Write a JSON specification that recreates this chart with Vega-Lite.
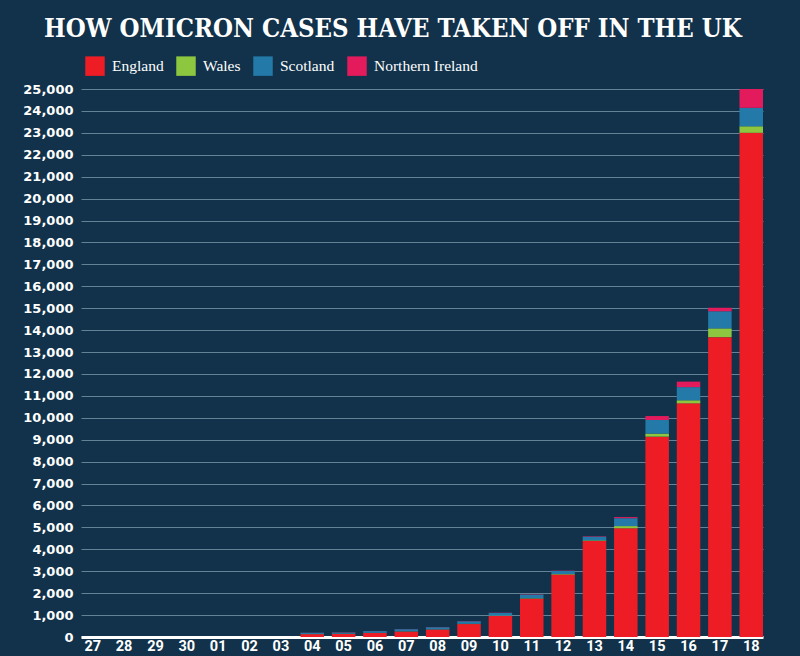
{
  "$schema": "https://vega.github.io/schema/vega-lite/v6.json",
  "width": 682,
  "height": 548,
  "autosize": {"type": "pad"},
  "padding": {"left": 22, "top": 16, "right": 38, "bottom": 3},
  "background": "#11324a",
  "title": {
    "text": "HOW OMICRON CASES HAVE TAKEN OFF IN THE UK",
    "font": "DejaVu Serif Condensed",
    "fontWeight": "bold",
    "fontSize": 25.5,
    "color": "#ffffff",
    "anchor": "middle",
    "frame": "bounds",
    "offset": 14
  },
  "data": {
    "values": [
      {"day": "27", "nation": "England", "ord": 1, "cases": 0},
      {"day": "28", "nation": "England", "ord": 1, "cases": 0},
      {"day": "29", "nation": "England", "ord": 1, "cases": 0},
      {"day": "30", "nation": "England", "ord": 1, "cases": 0},
      {"day": "01", "nation": "England", "ord": 1, "cases": 0},
      {"day": "02", "nation": "England", "ord": 1, "cases": 0},
      {"day": "03", "nation": "England", "ord": 1, "cases": 0},
      {"day": "04", "nation": "England", "ord": 1, "cases": 130},
      {"day": "04", "nation": "Wales", "ord": 2, "cases": 5},
      {"day": "04", "nation": "Scotland", "ord": 3, "cases": 60},
      {"day": "04", "nation": "Northern Ireland", "ord": 4, "cases": 5},
      {"day": "05", "nation": "England", "ord": 1, "cases": 140},
      {"day": "05", "nation": "Wales", "ord": 2, "cases": 5},
      {"day": "05", "nation": "Scotland", "ord": 3, "cases": 65},
      {"day": "05", "nation": "Northern Ireland", "ord": 4, "cases": 5},
      {"day": "06", "nation": "England", "ord": 1, "cases": 185},
      {"day": "06", "nation": "Wales", "ord": 2, "cases": 5},
      {"day": "06", "nation": "Scotland", "ord": 3, "cases": 80},
      {"day": "06", "nation": "Northern Ireland", "ord": 4, "cases": 5},
      {"day": "07", "nation": "England", "ord": 1, "cases": 250},
      {"day": "07", "nation": "Wales", "ord": 2, "cases": 8},
      {"day": "07", "nation": "Scotland", "ord": 3, "cases": 100},
      {"day": "07", "nation": "Northern Ireland", "ord": 4, "cases": 7},
      {"day": "08", "nation": "England", "ord": 1, "cases": 340},
      {"day": "08", "nation": "Wales", "ord": 2, "cases": 8},
      {"day": "08", "nation": "Scotland", "ord": 3, "cases": 100},
      {"day": "08", "nation": "Northern Ireland", "ord": 4, "cases": 8},
      {"day": "09", "nation": "England", "ord": 1, "cases": 590},
      {"day": "09", "nation": "Wales", "ord": 2, "cases": 10},
      {"day": "09", "nation": "Scotland", "ord": 3, "cases": 120},
      {"day": "09", "nation": "Northern Ireland", "ord": 4, "cases": 10},
      {"day": "10", "nation": "England", "ord": 1, "cases": 960},
      {"day": "10", "nation": "Wales", "ord": 2, "cases": 15},
      {"day": "10", "nation": "Scotland", "ord": 3, "cases": 125},
      {"day": "10", "nation": "Northern Ireland", "ord": 4, "cases": 10},
      {"day": "11", "nation": "England", "ord": 1, "cases": 1750},
      {"day": "11", "nation": "Wales", "ord": 2, "cases": 20},
      {"day": "11", "nation": "Scotland", "ord": 3, "cases": 165},
      {"day": "11", "nation": "Northern Ireland", "ord": 4, "cases": 15},
      {"day": "12", "nation": "England", "ord": 1, "cases": 2850},
      {"day": "12", "nation": "Wales", "ord": 2, "cases": 25},
      {"day": "12", "nation": "Scotland", "ord": 3, "cases": 140},
      {"day": "12", "nation": "Northern Ireland", "ord": 4, "cases": 15},
      {"day": "13", "nation": "England", "ord": 1, "cases": 4380},
      {"day": "13", "nation": "Wales", "ord": 2, "cases": 30},
      {"day": "13", "nation": "Scotland", "ord": 3, "cases": 170},
      {"day": "13", "nation": "Northern Ireland", "ord": 4, "cases": 20},
      {"day": "14", "nation": "England", "ord": 1, "cases": 4960},
      {"day": "14", "nation": "Wales", "ord": 2, "cases": 100},
      {"day": "14", "nation": "Scotland", "ord": 3, "cases": 360},
      {"day": "14", "nation": "Northern Ireland", "ord": 4, "cases": 50},
      {"day": "15", "nation": "England", "ord": 1, "cases": 9140},
      {"day": "15", "nation": "Wales", "ord": 2, "cases": 140},
      {"day": "15", "nation": "Scotland", "ord": 3, "cases": 620},
      {"day": "15", "nation": "Northern Ireland", "ord": 4, "cases": 180},
      {"day": "16", "nation": "England", "ord": 1, "cases": 10660},
      {"day": "16", "nation": "Wales", "ord": 2, "cases": 140},
      {"day": "16", "nation": "Scotland", "ord": 3, "cases": 600},
      {"day": "16", "nation": "Northern Ireland", "ord": 4, "cases": 250},
      {"day": "17", "nation": "England", "ord": 1, "cases": 13680},
      {"day": "17", "nation": "Wales", "ord": 2, "cases": 400},
      {"day": "17", "nation": "Scotland", "ord": 3, "cases": 780},
      {"day": "17", "nation": "Northern Ireland", "ord": 4, "cases": 160},
      {"day": "18", "nation": "England", "ord": 1, "cases": 23000},
      {"day": "18", "nation": "Wales", "ord": 2, "cases": 300},
      {"day": "18", "nation": "Scotland", "ord": 3, "cases": 840},
      {"day": "18", "nation": "Northern Ireland", "ord": 4, "cases": 860}
    ]
  },
  "mark": {"type": "bar"},
  "encoding": {
    "x": {
      "field": "day",
      "type": "ordinal",
      "sort": ["27","28","29","30","01","02","03","04","05","06","07","08","09","10","11","12","13","14","15","16","17","18"],
      "scale": {"paddingInner": 0.25, "paddingOuter": 0},
      "axis": {
        "title": null,
        "labelAngle": 0,
        "labelColor": "#ffffff",
        "labelFont": "Roboto",
        "labelFontWeight": "bold",
        "labelFontSize": 14.5,
        "labelPadding": 2,
        "ticks": false,
        "domain": true,
        "domainColor": "#ffffff",
        "domainWidth": 3,
        "grid": false
      }
    },
    "y": {
      "field": "cases",
      "type": "quantitative",
      "stack": "zero",
      "scale": {"domain": [0, 25000], "nice": false},
      "axis": {
        "title": null,
        "values": [0,1000,2000,3000,4000,5000,6000,7000,8000,9000,10000,11000,12000,13000,14000,15000,16000,17000,18000,19000,20000,21000,22000,23000,24000,25000],
        "format": ",d",
        "labelColor": "#ffffff",
        "labelFont": "DejaVu Sans",
        "labelFontWeight": "bold",
        "labelFontSize": 13,
        "labelPadding": 8,
        "ticks": false,
        "domain": false,
        "grid": true,
        "gridColor": "#a8c4d4",
        "gridOpacity": 0.55,
        "gridWidth": 1
      }
    },
    "color": {
      "field": "nation",
      "type": "nominal",
      "scale": {
        "domain": ["England", "Wales", "Scotland", "Northern Ireland"],
        "range": ["#ee1c25", "#8dc63f", "#2379a8", "#e31b5c"]
      },
      "legend": {
        "title": null,
        "orient": "none",
        "legendX": 4,
        "legendY": -33,
        "direction": "horizontal",
        "symbolType": "square",
        "symbolSize": 380,
        "symbolStrokeWidth": 0,
        "symbolOpacity": 1,
        "labelColor": "#ffffff",
        "labelFont": "Liberation Serif",
        "labelFontSize": 15.5,
        "labelOffset": 7,
        "columnPadding": 12
      }
    },
    "order": {"field": "ord", "type": "quantitative"}
  },
  "config": {"view": {"stroke": null}}
}
